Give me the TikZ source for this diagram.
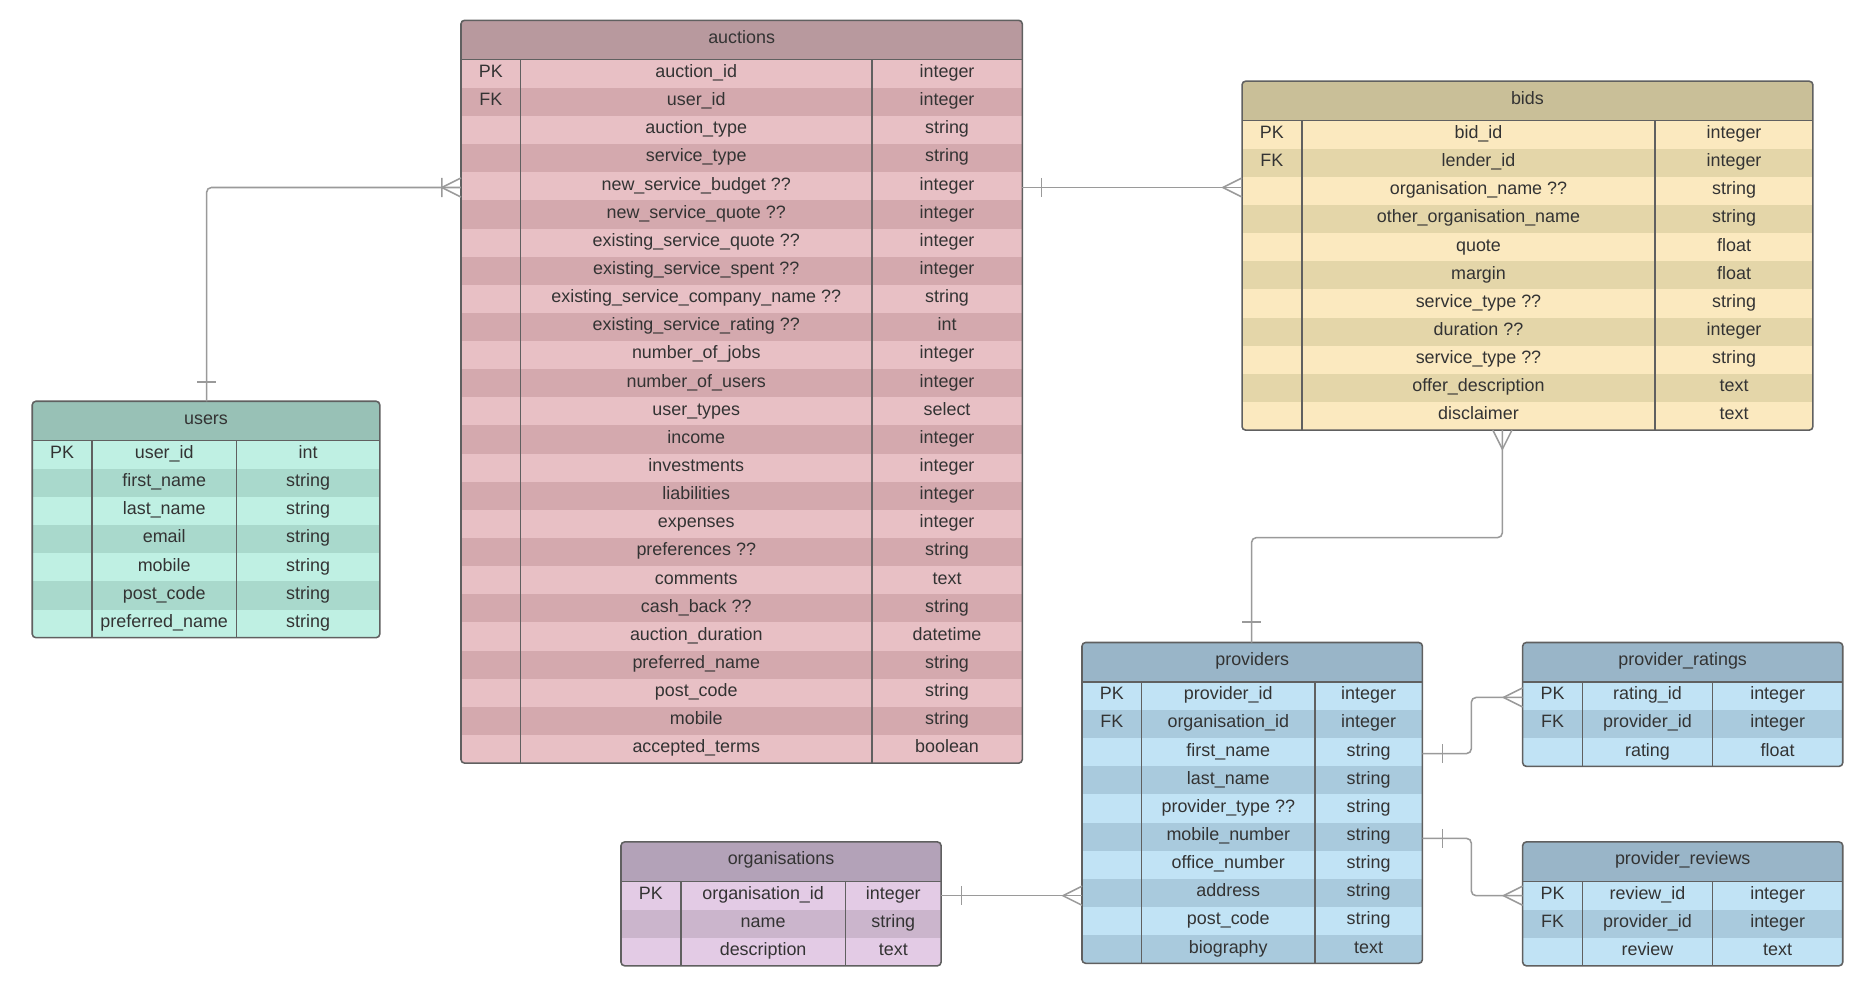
\documentclass[tikz,border=0pt]{standalone}
\usepackage{fontspec}
\setmainfont{Liberation Sans}
\usetikzlibrary{calc}
\definecolor{auctionsH}{HTML}{B8999E}\definecolor{auctionsA}{HTML}{E8C0C5}\definecolor{auctionsB}{HTML}{D4A9AE}
\definecolor{bidsH}{HTML}{C9BF98}\definecolor{bidsA}{HTML}{FBE9BF}\definecolor{bidsB}{HTML}{E4D6A9}
\definecolor{usersH}{HTML}{98C1B6}\definecolor{usersA}{HTML}{BFF0E3}\definecolor{usersB}{HTML}{A9D9CC}
\definecolor{providersH}{HTML}{99B5C8}\definecolor{providersA}{HTML}{C1E3F5}\definecolor{providersB}{HTML}{A9CADD}
\colorlet{ratingsH}{providersH}\colorlet{ratingsA}{providersA}\colorlet{ratingsB}{providersB}
\colorlet{reviewsH}{providersH}\colorlet{reviewsA}{providersA}\colorlet{reviewsB}{providersB}
\definecolor{orgsH}{HTML}{B3A2B8}\definecolor{orgsA}{HTML}{E3CBE5}\definecolor{orgsB}{HTML}{CBB5CC}
\definecolor{edge}{HTML}{606060}\definecolor{conn}{HTML}{9A9A9A}\definecolor{txt}{HTML}{333333}
\tikzset{cell/.style={font=\fontsize{15}{17}\selectfont,text=txt,inner sep=0,text height=10.5pt,text depth=3pt},
 outline/.style={draw=edge,line width=1.3},
 conn/.style={draw=conn,line width=1.3}}
\newcommand\ertbl[9]{%
 \pgfmathsetmacro\bot{#4+33+#8*23.56}
 \node[inner sep=0,outer sep=0,minimum width={(#3-#2)*1pt},minimum height={(\bot-#4)*1pt},anchor=north west] (#1) at (#2,#4) {};
 \begin{scope}
 \clip[rounded corners=3] (#2,#4) rectangle (#3,\bot);
 \fill[#1H] (#2,#4) rectangle (#3,#4+33);
 \foreach [count=\i] \k/\f/\t in {#9}{%
   \pgfmathsetmacro\ya{#4+33+(\i-1)*23.56}
   \pgfmathsetmacro\yb{\ya+23.56}
   \pgfmathsetmacro\ym{\ya+11.2}
   \pgfmathparse{int(mod(\i,2))}
   \ifnum\pgfmathresult=1 \fill[#1A] (#2,\ya) rectangle (#3,\yb);\else\fill[#1B] (#2,\ya) rectangle (#3,\yb);\fi
   \node[cell] at ({(#2+#5)/2},\ym) {\k};
   \node[cell] at ({(#5+#6)/2},\ym) {\f};
   \node[cell] at ({(#6+#3)/2},\ym) {\t};
 }
 \end{scope}
 \node[cell] at ({(#2+#3)/2},{#4+15.5}) {#7};
 \draw[outline] (#2,#4+33) -- (#3,#4+33) (#5,#4+33) -- (#5,\bot) (#6,#4+33) -- (#6,\bot);
 \draw[outline,rounded corners=3] (#2,#4) rectangle (#3,\bot);
}
\begin{document}
\begin{tikzpicture}[x=1pt,y=-1pt]
\useasboundingbox (0,0) rectangle (1565,843);
\ertbl{auctions}{386}{856}{17}{436}{730}{auctions}{25}{PK/auction\_id/integer,FK/user\_id/integer,/auction\_type/string,/service\_type/string,/new\_service\_budget ??/integer,/new\_service\_quote ??/integer,/existing\_service\_quote ??/integer,/existing\_service\_spent ??/integer,/existing\_service\_company\_name ??/string,/existing\_service\_rating ??/int,/number\_of\_jobs/integer,/number\_of\_users/integer,/user\_types/select,/income/integer,/investments/integer,/liabilities/integer,/expenses/integer,/preferences ??/string,/comments/text,/cash\_back ??/string,/auction\_duration/datetime,/preferred\_name/string,/post\_code/string,/mobile/string,/accepted\_terms/boolean}
\ertbl{bids}{1040}{1518}{68}{1090}{1386}{bids}{11}{PK/bid\_id/integer,FK/lender\_id/integer,/organisation\_name ??/string,/other\_organisation\_name/string,/quote/float,/margin/float,/service\_type ??/string,/duration ??/integer,/service\_type ??/string,/offer\_description/text,/disclaimer/text}
\ertbl{users}{27}{318}{336}{77}{198}{users}{7}{PK/user\_id/int,/first\_name/string,/last\_name/string,/email/string,/mobile/string,/post\_code/string,/preferred\_name/string}
\ertbl{providers}{906}{1191}{538}{956}{1101}{providers}{10}{PK/provider\_id/integer,FK/organisation\_id/integer,/first\_name/string,/last\_name/string,/provider\_type ??/string,/mobile\_number/string,/office\_number/string,/address/string,/post\_code/string,/biography/text}
\ertbl{ratings}{1275}{1543}{538}{1325}{1434}{provider\_ratings}{3}{PK/rating\_id/integer,FK/provider\_id/integer,/rating/float}
\ertbl{reviews}{1275}{1543}{705}{1325}{1434}{provider\_reviews}{3}{PK/review\_id/integer,FK/provider\_id/integer,/review/text}
\ertbl{orgs}{520}{788}{705}{570}{708}{organisations}{3}{PK/organisation\_id/integer,/name/string,/description/text}
% auctions - users
\coordinate (a1) at ([yshift=-140]auctions.north west);
\coordinate (u1) at ([xshift=146]users.north west);
\draw[conn,rounded corners=4] (a1) -| (u1);
\draw[conn] ($(u1)+(-8,-16)$) -- ($(u1)+(8,-16)$);
\draw[conn] ($(a1)+(0,-8)$) -- ($(a1)+(-16,0)$) -- ($(a1)+(0,8)$) ($(a1)+(-16,-8)$) -- ($(a1)+(-16,8)$);
% auctions - bids
\coordinate (a2) at ([yshift=-140]auctions.north east);
\coordinate (b1) at ([yshift=-89]bids.north west);
\draw[conn] (a2) -- (b1);
\draw[conn] ($(a2)+(16,-8)$) -- ($(a2)+(16,8)$);
\draw[conn] ($(b1)+(0,-8)$) -- ($(b1)+(-16,0)$) -- ($(b1)+(0,8)$);
% bids - providers
\coordinate (b2) at ([xshift=218]bids.south west);
\coordinate (p1) at ([xshift=142]providers.north west);
\draw[conn,rounded corners=4] (b2) -- ($(b2)+(0,90)$) -| (p1);
\draw[conn] ($(b2)+(-8,0)$) -- ($(b2)+(0,16)$) -- ($(b2)+(8,0)$);
\draw[conn] ($(p1)+(-8,-17)$) -- ($(p1)+(8,-17)$);
% providers - ratings
\coordinate (p2) at ([yshift=-93]providers.north east);
\coordinate (r1) at ([yshift=-46]ratings.north west);
\draw[conn,rounded corners=4] (p2) -- ($(p2)+(41,0)$) |- (r1);
\draw[conn] ($(p2)+(17,-8)$) -- ($(p2)+(17,8)$);
\draw[conn] ($(r1)+(0,-8)$) -- ($(r1)+(-16,0)$) -- ($(r1)+(0,8)$);
% providers - reviews
\coordinate (p3) at ([yshift=-164]providers.north east);
\coordinate (r2) at ([yshift=-45]reviews.north west);
\draw[conn,rounded corners=4] (p3) -- ($(p3)+(41,0)$) |- (r2);
\draw[conn] ($(p3)+(17,-8)$) -- ($(p3)+(17,8)$);
\draw[conn] ($(r2)+(0,-8)$) -- ($(r2)+(-16,0)$) -- ($(r2)+(0,8)$);
% orgs - providers
\coordinate (o1) at ([yshift=-45]orgs.north east);
\coordinate (p4) at ([yshift=-212]providers.north west);
\draw[conn] (o1) -- (p4);
\draw[conn] ($(o1)+(17,-8)$) -- ($(o1)+(17,8)$);
\draw[conn] ($(p4)+(0,-8)$) -- ($(p4)+(-16,0)$) -- ($(p4)+(0,8)$);
\end{tikzpicture}
\end{document}
